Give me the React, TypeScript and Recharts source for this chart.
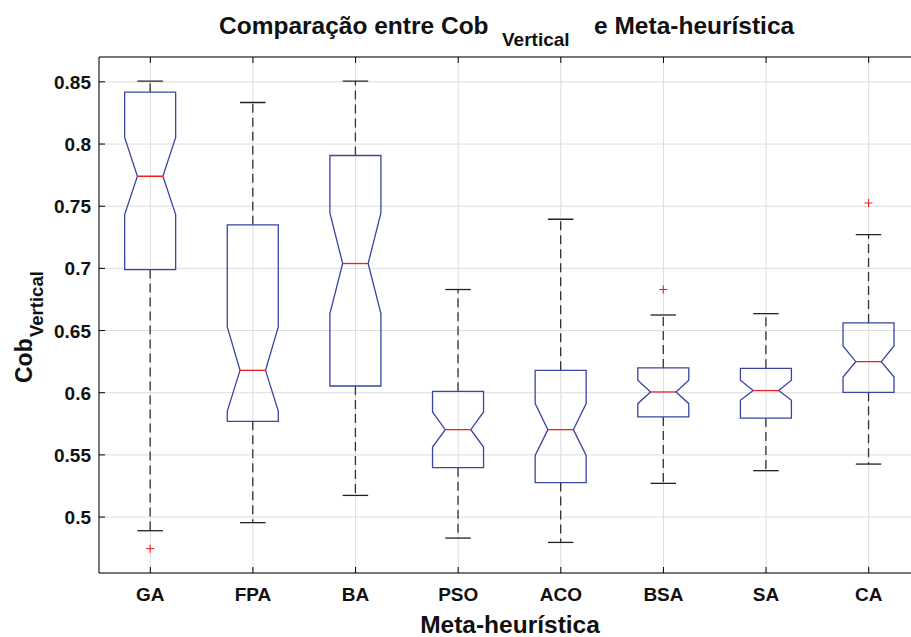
import React from 'react';
import {
  ComposedChart,
  Bar,
  XAxis,
  YAxis,
  CartesianGrid,
} from 'recharts';

// values
const categories = ['GA', 'FPA', 'BA', 'PSO', 'ACO', 'BSA', 'SA', 'CA'];
const whiskerLow = [0.489, 0.4955, 0.5174, 0.4831, 0.4796, 0.5271, 0.5373, 0.5426];
const q1 = [0.699, 0.577, 0.6054, 0.5397, 0.5277, 0.5805, 0.5796, 0.6003];
const notchLow = [0.7433, 0.5853, 0.6636, 0.5563, 0.5496, 0.5912, 0.5939, 0.6126];
const median = [0.7741, 0.618, 0.7039, 0.5703, 0.5703, 0.6006, 0.6017, 0.625];
const notchHigh = [0.8053, 0.6529, 0.7446, 0.5845, 0.5912, 0.61, 0.61, 0.6376];
const q3 = [0.8417, 0.735, 0.7908, 0.6011, 0.618, 0.6199, 0.6196, 0.6561];
const whiskerHigh = [0.8506, 0.8334, 0.8506, 0.683, 0.7395, 0.6625, 0.6636, 0.7272];
const outliers: number[][] = [[0.4746], [], [], [], [], [0.683], [], [0.7526]];

const yTicks = [0.5, 0.55, 0.6, 0.65, 0.7, 0.75, 0.8, 0.85];

const FONT = '"Liberation Sans", Arial, Helvetica, sans-serif';
const BOX_COLOR = '#3a45a0';
const MEDIAN_COLOR = '#ee2020';
const TICK_LEN = 6;

const plotData = categories.map((name, i) => ({
  name,
  i,
  range: [whiskerLow[i], whiskerHigh[i]],
}));

// notched box drawn from the pixel span of the whisker range
const BoxShape = (props: any) => {
  const { x, y, width, height, payload } = props;
  const i = payload.i;
  const lo = whiskerLow[i];
  const hi = whiskerHigh[i];
  const toY = (v: number) => y + ((hi - v) / (hi - lo)) * height;

  const L = x;
  const R = x + width;
  const cx = x + width / 2;
  const q = width / 4;

  const pts = [
    [L, toY(q3[i])],
    [L, toY(notchHigh[i])],
    [cx - q, toY(median[i])],
    [L, toY(notchLow[i])],
    [L, toY(q1[i])],
    [R, toY(q1[i])],
    [R, toY(notchLow[i])],
    [cx + q, toY(median[i])],
    [R, toY(notchHigh[i])],
    [R, toY(q3[i])],
  ]
    .map((p) => p.join(','))
    .join(' ');

  return (
    <g>
      <line x1={cx} x2={cx} y1={toY(q3[i])} y2={toY(hi)} stroke="#333" strokeWidth={1.3} strokeDasharray="9 5" />
      <line x1={cx} x2={cx} y1={toY(q1[i])} y2={toY(lo)} stroke="#333" strokeWidth={1.3} strokeDasharray="9 5" />
      <line x1={cx - q} x2={cx + q} y1={toY(hi)} y2={toY(hi)} stroke="#222" strokeWidth={1.3} />
      <line x1={cx - q} x2={cx + q} y1={toY(lo)} y2={toY(lo)} stroke="#222" strokeWidth={1.3} />
      <polygon points={pts} fill="none" stroke={BOX_COLOR} strokeWidth={1.3} />
      <line x1={cx - q} x2={cx + q} y1={toY(median[i])} y2={toY(median[i])} stroke={MEDIAN_COLOR} strokeWidth={1.3} />
      {outliers[i].map((v, k) => (
        <g key={k} stroke={MEDIAN_COLOR} strokeWidth={1.1}>
          <line x1={cx - 4} x2={cx + 4} y1={toY(v)} y2={toY(v)} />
          <line x1={cx} x2={cx} y1={toY(v) - 4} y2={toY(v) + 4} />
        </g>
      ))}
    </g>
  );
};

const BottomTick = ({ x, y, payload }: any) => (
  <g>
    <line x1={x} x2={x} y1={y} y2={y - TICK_LEN} stroke="#000" />
    <text x={x} y={y + 28} textAnchor="middle" fontFamily={FONT} fontWeight="bold" fontSize={19} fill="#111">
      {payload.value}
    </text>
  </g>
);

const TopTick = ({ x, y }: any) => (
  <line x1={x} x2={x} y1={y} y2={y + TICK_LEN} stroke="#000" />
);

const LeftTick = ({ x, y, payload }: any) => (
  <g>
    <line x1={x} x2={x + TICK_LEN} y1={y} y2={y} stroke="#000" />
    <text x={x - 8} y={y + 7} textAnchor="end" fontFamily={FONT} fontWeight="bold" fontSize={19} fill="#111">
      {String(payload.value)}
    </text>
  </g>
);

export default function App() {
  return (
    <div style={{ position: 'absolute', left: 0, top: 0, width: 911, height: 637, overflow: 'hidden', background: '#fff' }}>
      <ComposedChart
        width={930}
        height={637}
        data={plotData}
        margin={{ top: 56, right: 10, bottom: 63, left: 0 }}
        barCategoryGap="25%"
      >
        <CartesianGrid stroke="#dddddd" />
        <XAxis
          dataKey="name"
          type="category"
          interval={0}
          tickSize={0}
          tickMargin={0}
          tickLine={false}
          axisLine={{ stroke: '#000' }}
          tick={<BottomTick />}
          height={1}
        />
        <XAxis
          xAxisId="top"
          orientation="top"
          dataKey="name"
          type="category"
          interval={0}
          tickSize={0}
          tickMargin={0}
          tickLine={false}
          axisLine={{ stroke: '#000' }}
          tick={<TopTick />}
          height={1}
        />
        <YAxis
          type="number"
          domain={[0.455, 0.87]}
          ticks={yTicks}
          interval={0}
          allowDataOverflow
          width={99}
          tickSize={0}
          tickMargin={0}
          tickLine={false}
          axisLine={{ stroke: '#000' }}
          tick={<LeftTick />}
        />
        <Bar dataKey="range" shape={<BoxShape />} isAnimationActive={false} />
      </ComposedChart>

      <svg width={911} height={637} style={{ position: 'absolute', left: 0, top: 0, pointerEvents: 'none' }}>
        <g fontFamily={FONT} fontWeight="bold" fill="#111">
          <text x={219} y={34} fontSize={24.5}>Comparação entre Cob</text>
          <text x={502} y={46} fontSize={19}>Vertical</text>
          <text x={594} y={34} fontSize={24.5}>e Meta-heurística</text>

          <text x={510} y={633} fontSize={24.5} textAnchor="middle">Meta-heurística</text>

          <text transform="translate(32,383) rotate(-90)" fontSize={23}>Cob</text>
          <text transform="translate(43,337) rotate(-90)" fontSize={18.5}>Vertical</text>
        </g>
      </svg>
    </div>
  );
}
